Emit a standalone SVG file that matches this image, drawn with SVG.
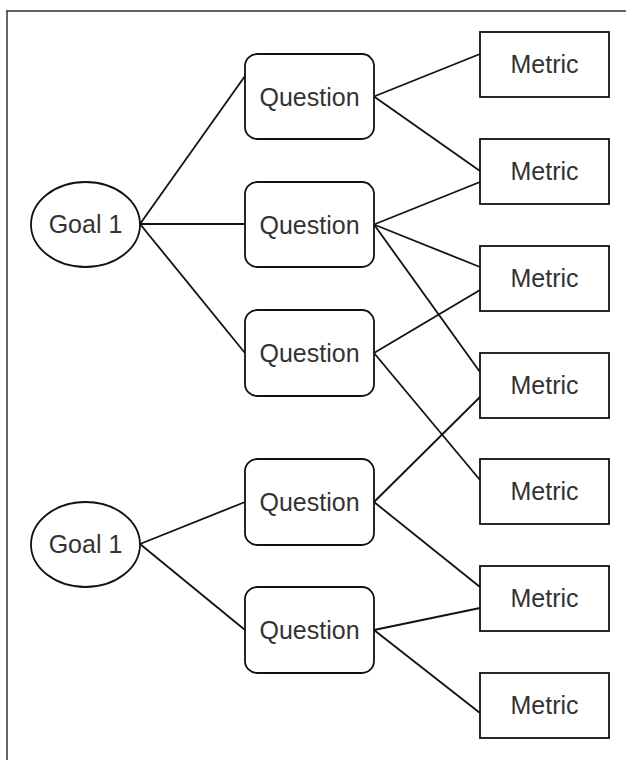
<svg xmlns="http://www.w3.org/2000/svg" width="626" height="760" viewBox="0 0 626 760">
<style>
.shape{fill:#fff;stroke:#111;stroke-width:1.8}
.lbl{font-family:"Liberation Sans",Arial,sans-serif;font-size:25px;fill:#333;text-anchor:middle}
.conn line{stroke:#111;stroke-width:1.8}
</style>
<rect width="626" height="760" fill="#fff"/>
<line x1="7" y1="11" x2="7" y2="760" stroke="#666" stroke-width="2"/>
<line x1="6" y1="11" x2="626" y2="11" stroke="#333" stroke-width="1.5"/>
<g class="conn">
<line x1="140" y1="224" x2="245" y2="76"/>
<line x1="140" y1="224" x2="245" y2="224"/>
<line x1="140" y1="224" x2="245" y2="353"/>
<line x1="140" y1="544" x2="245" y2="502"/>
<line x1="140" y1="544" x2="245" y2="630"/>
<line x1="374" y1="96.5" x2="480" y2="54"/>
<line x1="374" y1="96.5" x2="480" y2="171"/>
<line x1="374" y1="224.5" x2="480" y2="182"/>
<line x1="374" y1="224.5" x2="480" y2="267"/>
<line x1="374" y1="224.5" x2="480" y2="372"/>
<line x1="374" y1="353" x2="480" y2="290"/>
<line x1="374" y1="353" x2="480" y2="480"/>
<line x1="374" y1="502" x2="480" y2="397"/>
<line x1="374" y1="502" x2="480" y2="587"/>
<line x1="374" y1="630" x2="480" y2="608"/>
<line x1="374" y1="630" x2="480" y2="713"/>
</g>
<g id="goal1"><ellipse class="shape" cx="85.5" cy="224.5" rx="54.5" ry="42.5"/><text class="lbl" x="85.5" y="233">Goal 1</text></g>
<g id="goal2"><ellipse class="shape" cx="85.5" cy="544.5" rx="54.5" ry="42.5"/><text class="lbl" x="85.5" y="553">Goal 1</text></g>
<g id="q1"><rect class="shape" x="245" y="54" width="129" height="85" rx="12"/><text class="lbl" x="309.5" y="105.5">Question</text></g>
<g id="q2"><rect class="shape" x="245" y="182" width="129" height="85" rx="12"/><text class="lbl" x="309.5" y="233.5">Question</text></g>
<g id="q3"><rect class="shape" x="245" y="310" width="129" height="86" rx="12"/><text class="lbl" x="309.5" y="362">Question</text></g>
<g id="q4"><rect class="shape" x="245" y="459" width="129" height="86" rx="12"/><text class="lbl" x="309.5" y="511">Question</text></g>
<g id="q5"><rect class="shape" x="245" y="587" width="129" height="86" rx="12"/><text class="lbl" x="309.5" y="639">Question</text></g>
<g id="m1"><rect class="shape" x="480" y="32" width="129" height="65"/><text class="lbl" x="544.5" y="73">Metric</text></g>
<g id="m2"><rect class="shape" x="480" y="139" width="129" height="65"/><text class="lbl" x="544.5" y="180">Metric</text></g>
<g id="m3"><rect class="shape" x="480" y="246" width="129" height="65"/><text class="lbl" x="544.5" y="287">Metric</text></g>
<g id="m4"><rect class="shape" x="480" y="353" width="129" height="65"/><text class="lbl" x="544.5" y="394">Metric</text></g>
<g id="m5"><rect class="shape" x="480" y="459" width="129" height="65"/><text class="lbl" x="544.5" y="500">Metric</text></g>
<g id="m6"><rect class="shape" x="480" y="566" width="129" height="65"/><text class="lbl" x="544.5" y="607">Metric</text></g>
<g id="m7"><rect class="shape" x="480" y="673" width="129" height="65"/><text class="lbl" x="544.5" y="714">Metric</text></g>
</svg>
